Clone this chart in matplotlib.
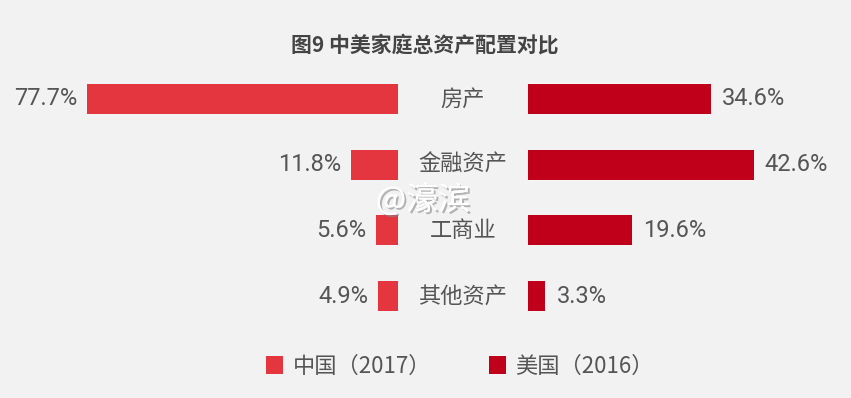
import numpy as np
import matplotlib
matplotlib.use("Agg")
import matplotlib.pyplot as plt
import matplotlib.transforms as mtransforms
import matplotlib.patheffects as pe
from matplotlib.patches import Patch

# Data
categories = ["房产", "金融资产", "工商业", "其他资产"]
china_2017 = [77.7, 11.8, 5.6, 4.9]
usa_2016 = [34.6, 42.6, 19.6, 3.3]
series_names = ["中国（2017）", "美国（2016）"]

# Style
bg = "#f2f2f2"
c_china = "#e4363f"
c_usa = "#c0001a"
txt = "#555555"
cjk = ["Noto Sans CJK SC", "DejaVu Sans"]
num = ["Roboto", "Noto Sans CJK SC", "DejaVu Sans"]

W, H = 851, 398
fig = plt.figure(figsize=(W / 100, H / 100), dpi=100, facecolor=bg)

# Both axes share the same vertical placement; rows centred at ~99..296 px
row_top, row_bot = 66, 329
ax_b = (H - row_bot) / H
ax_h = (row_bot - row_top) / H
ax_l = fig.add_axes([0, ax_b, 398 / W, ax_h])
ax_r = fig.add_axes([528 / W, ax_b, 323 / W, ax_h])

y = np.arange(len(categories))
bar_h = 0.46

ax_l.barh(y, china_2017, height=bar_h, color=c_china)
ax_r.barh(y, usa_2016, height=bar_h, color=c_usa)

ax_l.set_xlim(99.4, 0)
ax_r.set_xlim(0, 61)
for ax in (ax_l, ax_r):
    ax.set_ylim(len(categories) - 0.5, -0.5)
    ax.set_facecolor("none")
    ax.axis("off")

# value labels
for yi, v in zip(y, china_2017):
    ax_l.annotate(f"{v:.1f}%", (v, yi), xytext=(-7, 0), textcoords="offset points",
                  ha="right", va="center", fontsize=17, color=txt, family=num)
for yi, v in zip(y, usa_2016):
    ax_r.annotate(f"{v:.1f}%", (v, yi), xytext=(8, 0), textcoords="offset points",
                  ha="left", va="center", fontsize=17, color=txt, family=num)

# category names in the middle gap
trans = mtransforms.blended_transform_factory(fig.transFigure, ax_l.transData)
for yi, name in zip(y, categories):
    fig.text(463 / W, yi, name, transform=trans, ha="center", va="center",
             fontsize=16, color=txt, family=cjk)

# title
fig.text(425 / W, 1 - 45 / H, "图9 中美家庭总资产配置对比", ha="center", va="center",
         fontsize=15, fontweight="bold", color="#444444", family=cjk)

# watermark
fig.text(423 / W, 1 - 200 / H, "@濠滨", ha="center", va="center", fontsize=23,
         color="white", family=cjk,
         path_effects=[pe.withSimplePatchShadow(offset=(1.5, -1.5), shadow_rgbFace="#888888", alpha=0.6),
                       pe.Normal()])

# legend
handles = [Patch(facecolor=c_china), Patch(facecolor=c_usa)]
leg = fig.legend(handles, series_names, loc="center", bbox_to_anchor=(460 / W, 1 - 366 / H),
                 ncol=2, frameon=False, handlelength=0.75, handleheight=0.9,
                 handletextpad=0.45, columnspacing=2.6, prop={"family": cjk, "size": 16})
for t in leg.get_texts():
    t.set_color(txt)

fig.savefig("out.png", dpi=100, facecolor=bg)
